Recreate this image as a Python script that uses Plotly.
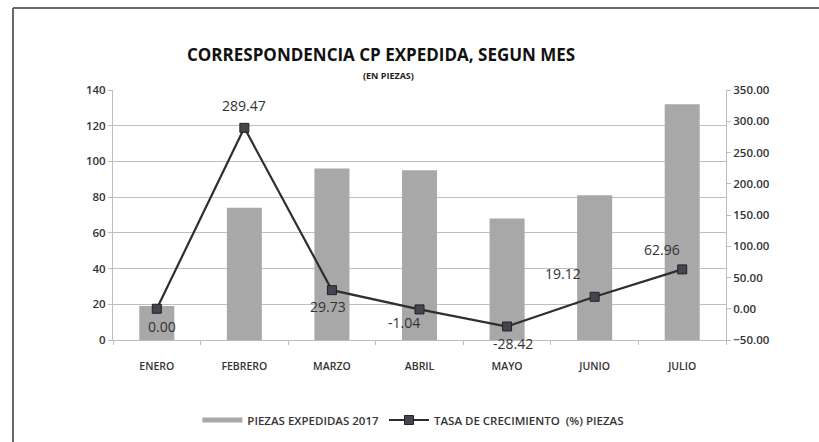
import plotly.graph_objects as go

meses = ["ENERO", "FEBRERO", "MARZO", "ABRIL", "MAYO", "JUNIO", "JULIO"]
piezas = [19, 74, 96, 95, 68, 81, 132]
tasa = [0.00, 289.47, 29.73, -1.04, -28.42, 19.12, 62.96]

# label offsets (styling only)
lab_dx = [5, 0, -4, -16, 6, -32, -20]
lab_dy = [-18, 22, -16, -13, -17, 23, 20]

FONT = "Open Sans"
W, H = 819, 442
L, R, T, B = 113, 93, 90, 102
pw, ph = W - L - R, H - T - B


def px(xp):
    return (xp - L) / pw


def py(yp):
    return (H - yp - B) / ph


fig = go.Figure()
fig.add_trace(go.Bar(
    x=meses, y=piezas, name="PIEZAS EXPEDIDAS 2017",
    marker=dict(color="#a8a8a8", line=dict(width=0)),
    width=0.4, yaxis="y", showlegend=False,
))
# legend swatch for the bars (wide flat bar like the original)
fig.add_trace(go.Scatter(
    x=[None], y=[None], name="PIEZAS EXPEDIDAS 2017", mode="lines",
    line=dict(color="#a8a8a8", width=5), yaxis="y",
))
fig.add_trace(go.Scatter(
    x=meses, y=tasa, name="TASA DE CRECIMIENTO  (%) PIEZAS",
    mode="lines+markers", yaxis="y2",
    line=dict(color="#2e2e2e", width=2.2),
    marker=dict(symbol="square", size=9, color="#454550",
                line=dict(color="#222", width=1)),
))

annotations = []
for m, v, dx, dy in zip(meses, tasa, lab_dx, lab_dy):
    annotations.append(dict(
        x=m, y=v, xref="x", yref="y2", text=f"{v:.2f}", showarrow=False,
        xshift=dx, yshift=dy, font=dict(family=FONT, size=14, color="#333"),
    ))
annotations.append(dict(
    x=px(381), y=py(41), xref="paper", yref="paper",
    text="<b>CORRESPONDENCIA CP EXPEDIDA, SEGUN MES</b>",
    showarrow=False, font=dict(family=FONT, size=17, color="#111"),
))
annotations.append(dict(
    x=px(388), y=py(67), xref="paper", yref="paper", text="<b>(EN PIEZAS)</b>",
    showarrow=False, font=dict(family=FONT, size=9, color="#222"),
))

shapes = [
    dict(type="line", xref="paper", yref="paper",
         x0=px(13), x1=px(819), y0=py(8), y1=py(8),
         line=dict(color="#6a6a6a", width=2)),
    dict(type="line", xref="paper", yref="paper",
         x0=px(13), x1=px(13), y0=py(442), y1=py(8),
         line=dict(color="#6a6a6a", width=2)),
]

fig.update_layout(
    width=W, height=H,
    margin=dict(l=L, r=R, t=T, b=B, autoexpand=False),
    paper_bgcolor="white", plot_bgcolor="white",
    showlegend=True,
    legend=dict(orientation="h", x=0.49, xanchor="center", y=-0.32, yanchor="middle",
                font=dict(family=FONT, size=11.5, color="#333", weight=600),
                itemwidth=40, tracegroupgap=0),
    annotations=annotations, shapes=shapes,
    xaxis=dict(showline=True, linecolor="#bdbdbd", linewidth=1,
               ticks="outside", tickson="boundaries", ticklen=4, tickcolor="#bdbdbd",
               ticklabelstandoff=16,
               tickfont=dict(family=FONT, size=10.5, color="#333", weight=600),
               showgrid=False),
    yaxis=dict(range=[0, 140], dtick=20, showgrid=True, gridcolor="#bfbfbf", gridwidth=1,
               showline=True, linecolor="#bdbdbd", ticks="outside", ticklen=4,
               tickcolor="#bdbdbd", tickfont=dict(family=FONT, size=11.5, color="#333", weight=600),
               zeroline=False),
    yaxis2=dict(range=[-50, 350], dtick=50, overlaying="y", side="right", tickformat=".2f",
                showgrid=False, showline=True, linecolor="#bdbdbd", ticks="outside",
                ticklen=4, tickcolor="#bdbdbd", zeroline=False,
                tickfont=dict(family=FONT, size=11.5, color="#333", weight=600)),
    bargap=0.6,
)

fig.write_html(
    "out.html",
    config={"displayModeBar": False},
    post_script="document.body.style.margin='0px';document.body.style.overflow='hidden';"
                "document.documentElement.style.overflow='hidden';",
)
